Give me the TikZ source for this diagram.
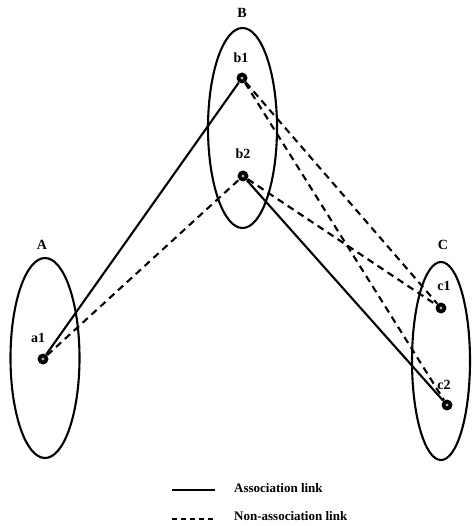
\documentclass[tikz,border=0pt]{standalone}
\usepackage{fontspec}
\setmainfont{Liberation Serif}
\usetikzlibrary{shapes.geometric}
\begin{document}
\begin{tikzpicture}[x=1pt,y=-1pt,
  setell/.style={draw, ellipse, line width=2.1pt, inner sep=0pt},
  dotnode/.style={circle, fill=black, minimum size=11pt, inner sep=0pt,
    path picture={\fill[gray!60] (path picture bounding box.center) circle (1.6pt);}},
  lbl/.style={font=\bfseries\fontsize{14}{16}\selectfont, inner sep=0pt},
  assoc/.style={line width=2.1pt},
  nonassoc/.style={line width=2.1pt, dash pattern=on 7pt off 5pt},
  legtxt/.style={font=\bfseries\fontsize{13}{15}\selectfont, anchor=west, inner sep=0pt}]
\useasboundingbox (0,0) rectangle (472,526);

% sets
\node[setell, minimum width=69pt, minimum height=200pt] (A) at (45,358) {};
\node[setell, minimum width=69pt, minimum height=200pt] (B) at (242.5,128) {};
\node[setell, minimum width=58pt, minimum height=198pt] (C) at (441,361) {};

\node[lbl] (Alab) at (42,245) {A};
\node[lbl] (Blab) at (242,13) {B};
\node[lbl] (Clab) at (443,245) {C};

% elements
\node[dotnode] (a1) at (43,359) {};
\node[dotnode] (b1) at (242,78) {};
\node[dotnode] (b2) at (243,176) {};
\node[dotnode] (c1) at (441,308) {};
\node[dotnode] (c2) at (447,405) {};

\node[lbl] (a1lab) at (38,338) {a1};
\node[lbl] (b1lab) at (241,58) {b1};
\node[lbl] (b2lab) at (243,154) {b2};
\node[lbl] (c1lab) at (444,286) {c1};
\node[lbl] (c2lab) at (444,385) {c2};

% links
\draw[assoc] (a1) -- (b1);
\draw[nonassoc] (a1) -- (b2);
\draw[nonassoc] (b1) -- (c1);
\draw[nonassoc] (b1) -- (c2);
\draw[nonassoc] (b2) -- (c1);
\draw[assoc] (b2) -- (c2);

% legend
\coordinate (l1s) at (172,490);
\coordinate (l1e) at (215,490);
\coordinate (l2s) at (172,519);
\coordinate (l2e) at (215,519);
\draw[assoc] (l1s) -- (l1e);
\draw[nonassoc, dash pattern=on 5pt off 4pt] (l2s) -- (l2e);
\node[legtxt] (leg1) at (234,488) {Association link};
\node[legtxt] (leg2) at (234,516) {Non-association link};
\end{tikzpicture}
\end{document}
